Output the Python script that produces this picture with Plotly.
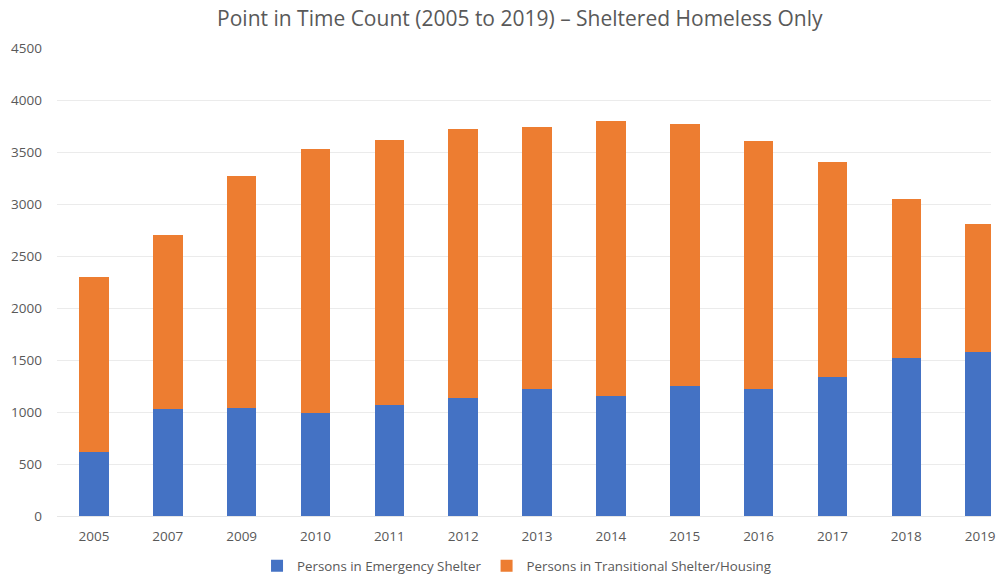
import plotly.graph_objects as go

years = ["2005", "2007", "2009", "2010", "2011", "2012", "2013", "2014", "2015", "2016", "2017", "2018", "2019"]
emergency = [620, 1030, 1040, 990, 1065, 1135, 1225, 1155, 1250, 1225, 1337, 1519, 1580]
totals = [2300, 2705, 3270, 3525, 3620, 3720, 3740, 3800, 3765, 3610, 3408, 3045, 2803]
transitional = [t - e for t, e in zip(totals, emergency)]

font_family = "Open Sans, Liberation Sans, sans-serif"
grey = "#595959"

fig = go.Figure()
fig.add_trace(go.Bar(x=years, y=emergency, name="Persons in Emergency Shelter",
                     marker=dict(color="#4472C4", line=dict(width=0)), width=0.4))
fig.add_trace(go.Bar(x=years, y=transitional, name="Persons in Transitional Shelter/Housing",
                     marker=dict(color="#ED7D31", line=dict(width=0)), width=0.4))

# page body has an 8px margin, so the figure is offset by 8px in the window
fig.update_layout(
    barmode="stack",
    width=988, height=568,
    margin=dict(l=49, r=0, t=40, b=60),
    paper_bgcolor="white", plot_bgcolor="white",
    font=dict(family=font_family, color=grey, size=13),
    title=dict(text="Point in Time Count (2005 to 2019) – Sheltered Homeless Only",
               x=0.518, xanchor="center", y=0.982, yanchor="middle", yref="container",
               font=dict(size=21, color=grey, family=font_family)),
    xaxis=dict(type="category", range=[-0.5, 12.147], showgrid=False, ticks="",
               showline=True, linecolor="#e6e6e6", linewidth=1,
               tickfont=dict(size=13.5, color=grey), ticklabelstandoff=8),
    yaxis=dict(range=[0, 4500], dtick=500, showgrid=True, gridcolor="#ebebeb", gridwidth=1,
               zeroline=False, ticks="", tickfont=dict(size=13.5, color=grey),
               ticklabelstandoff=14),
    legend=dict(orientation="h", x=0.492, xanchor="center", y=0.0176, yref="container",
                yanchor="middle", font=dict(size=13.3, color=grey), itemwidth=30,
                traceorder="normal"),
    bargap=0.6,
)

fig.write_html("out.html")
